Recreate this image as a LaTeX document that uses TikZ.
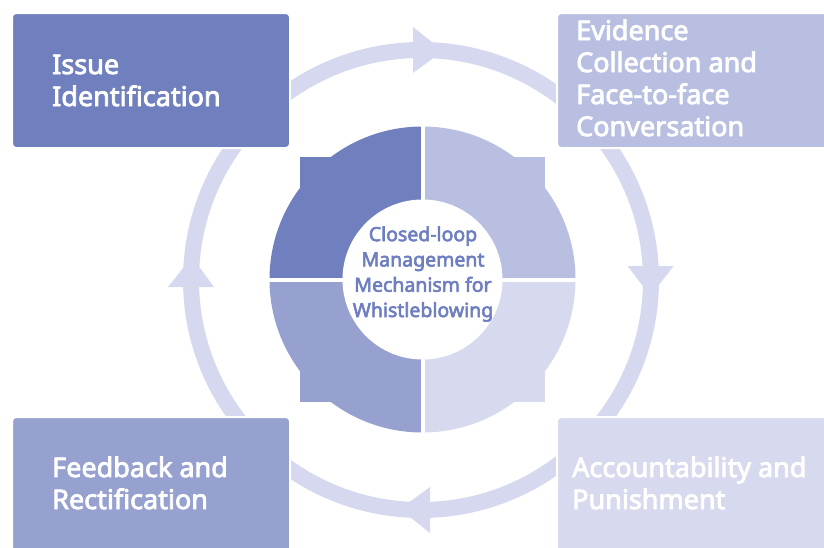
\documentclass[tikz,border=0pt]{standalone}
\usepackage{fontspec}
\setmainfont{Noto Sans}
\newfontfamily\boxfont{Noto Sans}[FakeBold=3]
\newfontfamily\midfont{Noto Sans}[FakeBold=3]
\definecolor{cTL}{HTML}{7080BE}
\definecolor{cTR}{HTML}{B8BFE1}
\definecolor{cBL}{HTML}{96A1D0}
\definecolor{cBR}{HTML}{D7DAEE}
\definecolor{ringc}{HTML}{D5D8EE}
\definecolor{ctext}{HTML}{6E7EC0}
\tikzset{
  card/.style={rounded corners=4pt, draw=white, line width=2pt, anchor=north west, inner sep=0pt},
  cardtext/.style={anchor=base west, align=left, inner sep=0pt, text=white,
    font=\boxfont\fontsize{27}{32}\selectfont},
  arrowtip/.style={fill=ringc},
}
\begin{document}
\begin{tikzpicture}[x=1pt,y=-1pt]
\clip (0,0) rectangle (824,547);
\useasboundingbox (0,0) rectangle (824,547);
% ring
\coordinate (rc) at (421,280);
\draw[ringc, line width=16pt] (rc) circle (230pt);
\fill[arrowtip] (413,27) -- (443,51) -- (413,73) -- cycle;
\fill[arrowtip] (627.6,266) -- (650.4,296) -- (673.6,266) -- cycle;
\fill[arrowtip] (430,487) -- (400,509) -- (430,533) -- cycle;
\fill[arrowtip] (168,287) -- (192,257) -- (214,287) -- cycle;
% centre
\coordinate (cc) at (422.5,279.5);
\begin{scope}
  \clip (cc) rectangle (250,100);
  \fill[cTL] (cc) circle (153pt); \fill[cTL] (300,157) rectangle (545,402);
\end{scope}
\begin{scope}
  \clip (cc) rectangle (600,100);
  \fill[cTR] (cc) circle (153pt); \fill[cTR] (300,157) rectangle (545,402);
\end{scope}
\begin{scope}
  \clip (cc) rectangle (250,460);
  \fill[cBL] (cc) circle (153pt); \fill[cBL] (300,157) rectangle (545,402);
\end{scope}
\begin{scope}
  \clip (cc) rectangle (600,460);
  \fill[cBR] (cc) circle (153pt); \fill[cBR] (300,157) rectangle (545,402);
\end{scope}
\draw[white, line width=4pt] (422.5,110) -- (422.5,450);
\draw[white, line width=4pt] (250,279.5) -- (600,279.5);
\fill[white] (cc) circle (80pt);
\node[align=center, inner sep=0pt, text=ctext, font=\midfont\fontsize{19.5}{25.3}\selectfont] (centre) at (423,274)
  {Closed-loop\\Management\\Mechanism for\\Whistleblowing};
% cards
\node[card, fill=cTL, minimum width=278pt, minimum height=135pt] (b1) at (11,12) {};
\node[card, fill=cTR, minimum width=280pt, minimum height=135pt] (b2) at (556,12) {};
\node[card, fill=cBL, minimum width=278pt, minimum height=145pt] (b3) at (11,416) {};
\node[card, fill=cBR, minimum width=280pt, minimum height=145pt] (b4) at (556,416) {};
\node[cardtext] (t1) at (52,106) {Issue\\Identification};
\node[cardtext] (t2) at (576,136) {Evidence\\Collection and\\Face-to-face\\Conversation};
\node[cardtext] (t3) at (52,509) {Feedback and\\Rectification};
\node[cardtext] (t4) at (572,509) {Accountability and\\Punishment};
\end{tikzpicture}
\end{document}
